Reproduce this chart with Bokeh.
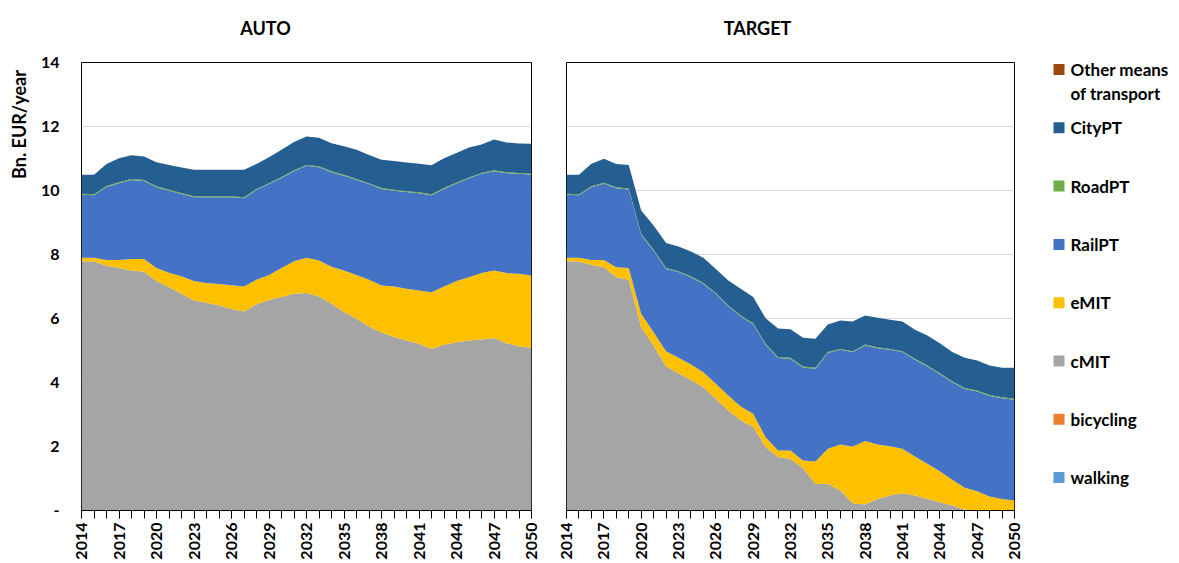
import math
import textwrap
from bokeh.plotting import figure
from bokeh.layouts import row, column
from bokeh.models import ColumnDataSource, FixedTicker, Range1d
from bokeh.embed import file_html
from bokeh.resources import INLINE
from bokeh.core.properties import value

FONT = "Lato"

years = list(range(2014, 2051))
series = ["walking", "bicycling", "cMIT", "eMIT", "RailPT", "RoadPT", "CityPT",
          "Other means of transport"]
colors = ["#5B9BD5", "#ED7D31", "#A5A5A5", "#FFC000", "#4472C4", "#70AD47",
          "#255E91", "#9E480E"]
y_ticks = [0, 2, 4, 6, 8, 10, 12, 14]
y_label = "Bn. EUR/year"
panel_titles = ["AUTO", "TARGET"]

# ---------------- AUTO scenario (Bn. EUR/year) ----------------
auto_walking = [0.0] * 37
auto_bicycling = [0.0] * 37
auto_cMIT = [7.79, 7.78, 7.65, 7.58, 7.50, 7.46, 7.17, 6.98, 6.77, 6.56,
             6.49, 6.41, 6.30, 6.22, 6.44, 6.58, 6.67, 6.77, 6.80, 6.69,
             6.46, 6.20, 5.99, 5.75, 5.56, 5.42, 5.31, 5.21, 5.05, 5.18,
             5.26, 5.31, 5.34, 5.39, 5.23, 5.13, 5.08]
auto_eMIT = [0.11, 0.12, 0.18, 0.25, 0.36, 0.40, 0.41, 0.45, 0.55, 0.61,
             0.62, 0.67, 0.74, 0.78, 0.77, 0.78, 0.91, 1.02, 1.10, 1.12,
             1.16, 1.30, 1.37, 1.46, 1.47, 1.58, 1.62, 1.665, 1.77, 1.82,
             1.91, 1.98, 2.08, 2.11, 2.19, 2.27, 2.26]
auto_RailPT = [1.97, 1.95, 2.28, 2.40, 2.47, 2.44, 2.52, 2.56, 2.57, 2.62,
               2.68, 2.71, 2.75, 2.76, 2.81, 2.84, 2.81, 2.81, 2.87, 2.92,
               2.95, 2.96, 2.97, 2.99, 3.02, 2.99, 3.02, 3.04, 3.03, 3.05,
               3.05, 3.09, 3.10, 3.10, 3.12, 3.12, 3.15]
auto_RoadPT = [0.03] * 37
auto_CityPT = [0.59, 0.61, 0.69, 0.75, 0.74, 0.73, 0.75, 0.78, 0.80, 0.83,
               0.83, 0.83, 0.83, 0.86, 0.78, 0.81, 0.85, 0.885, 0.89, 0.89,
               0.88, 0.89, 0.91, 0.88, 0.88, 0.90, 0.895, 0.89, 0.91, 0.93,
               0.92, 0.93, 0.89, 0.965, 0.93, 0.92, 0.94]
auto_Other = [0.0] * 37

# ---------------- TARGET scenario (Bn. EUR/year) ----------------
target_walking = [0.0] * 37
target_bicycling = [0.0] * 37
target_cMIT = [7.79, 7.78, 7.67, 7.60, 7.29, 7.21, 5.73, 5.16, 4.50, 4.29,
               4.08, 3.85, 3.49, 3.125, 2.81, 2.625, 1.98, 1.67, 1.61, 1.33,
               0.83, 0.83, 0.625, 0.23, 0.19, 0.36, 0.47, 0.54, 0.47, 0.36,
               0.26, 0.16, 0.02, 0.0, 0.0, 0.0, 0.0]
target_eMIT = [0.11, 0.12, 0.16, 0.23, 0.31, 0.37, 0.42, 0.41, 0.48, 0.48,
               0.48, 0.47, 0.47, 0.465, 0.44, 0.395, 0.31, 0.205, 0.265, 0.23,
               0.70, 1.10, 1.435, 1.77, 1.98, 1.70, 1.54, 1.39, 1.22, 1.10,
               0.97, 0.80, 0.69, 0.60, 0.44, 0.36, 0.31]
target_RailPT = [1.97, 1.95, 2.27, 2.38, 2.47, 2.45, 2.47, 2.55, 2.57, 2.68,
                 2.73, 2.76, 2.81, 2.79, 2.81, 2.80, 2.89, 2.89, 2.87, 2.91,
                 2.90, 2.99, 2.96, 2.95, 2.99, 3.01, 3.01, 3.02, 3.02, 3.04,
                 3.03, 3.05, 3.09, 3.12, 3.14, 3.15, 3.15]
target_RoadPT = [0.03] * 37
target_CityPT = [0.59, 0.61, 0.705, 0.75, 0.73, 0.74, 0.725, 0.76, 0.78, 0.77,
                 0.77, 0.79, 0.75, 0.78, 0.84, 0.82, 0.80, 0.89, 0.89, 0.90,
                 0.91, 0.86, 0.89, 0.93, 0.90, 0.92, 0.91, 0.93, 0.91, 0.94,
                 0.94, 0.91, 0.94, 0.94, 0.92, 0.92, 0.97]
target_Other = [0.0] * 37

auto_data = [auto_walking, auto_bicycling, auto_cMIT, auto_eMIT, auto_RailPT,
             auto_RoadPT, auto_CityPT, auto_Other]
target_data = [target_walking, target_bicycling, target_cMIT, target_eMIT,
               target_RailPT, target_RoadPT, target_CityPT, target_Other]

W_TOTAL = 1179
H_TOTAL = 563
TITLE_H = 40            # strip holding the two panel titles
H = H_TOTAL - TITLE_H   # height of the plot row
TOP = 62 - TITLE_H      # frame top at page y = 62
BOTTOM = 53             # frame bottom at page y = 510


def make_panel(data, show_y, width, border_left, border_right):
    src = ColumnDataSource(dict(year=years, **{s: d for s, d in zip(series, data)}))
    p = figure(width=width, height=H, min_border_left=border_left,
               min_border_right=border_right, min_border_top=TOP,
               min_border_bottom=BOTTOM,
               x_range=Range1d(2014, 2050), y_range=Range1d(0, 14),
               output_backend="svg", toolbar_location=None)
    p.varea_stack(stackers=series, x="year", fill_color=colors, source=src)

    p.outline_line_color = "black"
    p.outline_line_width = 1
    p.outline_line_alpha = 1.0

    xa = p.xaxis[0]
    xa.ticker = FixedTicker(ticks=years[::3], minor_ticks=years)
    xa.major_label_orientation = math.pi / 2
    xa.major_tick_in = 0
    xa.major_tick_out = 8
    xa.minor_tick_in = 0
    xa.minor_tick_out = 8
    xa.major_tick_line_color = "black"
    xa.minor_tick_line_color = "black"
    xa.axis_line_color = "black"
    xa.major_label_standoff = 4
    xa.major_label_text_font = FONT
    xa.major_label_text_font_style = "bold"
    xa.major_label_text_font_size = "16px"
    xa.major_label_text_color = "black"

    p.xgrid.visible = False
    p.ygrid.ticker = FixedTicker(ticks=y_ticks)
    p.ygrid.grid_line_color = "#d9d9d9"
    p.ygrid.grid_line_width = 1

    ya = p.yaxis[0]
    ya.ticker = FixedTicker(ticks=y_ticks)
    if show_y:
        ya.major_label_overrides = {0: "-"}
        ya.major_tick_in = 0
        ya.major_tick_out = 0
        ya.minor_tick_out = 0
        ya.minor_tick_in = 0
        ya.axis_line_color = None
        ya.major_label_standoff = 22
        ya.major_label_text_font = FONT
        ya.major_label_text_font_style = "bold"
        ya.major_label_text_font_size = "16px"
        ya.major_label_text_color = "black"
    else:
        ya.visible = False
    return p


def side_panel(x0, w):
    # data coordinates: x = page x, y = H_TOTAL - page y
    f = figure(width=w, height=H, x_range=Range1d(x0, x0 + w),
               y_range=Range1d(BOTTOM, H_TOTAL - TITLE_H - TOP),
               min_border_left=0, min_border_right=0,
               min_border_top=TOP, min_border_bottom=BOTTOM,
               output_backend="svg", toolbar_location=None,
               x_axis_location=None, y_axis_location=None)
    f.outline_line_color = None
    f.grid.visible = False
    return f


# ---------------- title strip ----------------
strip = figure(width=W_TOTAL, height=TITLE_H, x_range=Range1d(0, W_TOTAL),
               y_range=Range1d(0, TITLE_H), min_border=0,
               output_backend="svg", toolbar_location=None,
               x_axis_location=None, y_axis_location=None)
strip.outline_line_color = None
strip.grid.visible = False
strip.text(x=[265, 757], y=[TITLE_H - 27, TITLE_H - 27], text=panel_titles,
           text_font=value(FONT), text_font_style="bold", text_font_size="18px",
           text_align="center", text_baseline="middle", text_color="black")

# ---------------- y-axis title panel ----------------
LBW = 32
lab = side_panel(0, LBW)
lab.text(x=[18.5], y=[H_TOTAL - 124], text=[y_label], angle=math.pi / 2,
         text_font=value(FONT), text_font_style="bold", text_font_size="18px",
         text_align="center", text_baseline="middle", text_color="black")

p1 = make_panel(auto_data, True, 548 - LBW, 81 - LBW, 17)
p2 = make_panel(target_data, False, 476, 18, 10)

# ---------------- legend panel ----------------
X0 = 1024
LW = W_TOTAL - X0
lg = side_panel(X0, LW)

order = list(range(len(series)))[::-1]
row_y = [H_TOTAL - (69 + 58.3 * i) for i in range(len(order))]
lg.rect(x=[1058.5] * len(order), y=row_y, width=11, height=11,
        fill_color=[colors[k] for k in order], line_color=None)
tx, ty, tt = [], [], []
for i, k in enumerate(order):
    for j, line in enumerate(textwrap.wrap(series[k], 12)):
        tx.append(1070)
        ty.append(row_y[i] - 24.3 * j)
        tt.append(line)
lg.text(x=tx, y=ty, text=tt, text_font=value(FONT), text_font_style="bold",
        text_font_size="17px", text_baseline="middle", text_color="black")

layout = column(strip, row(lab, p1, p2, lg))
open("out.html", "w").write(file_html(layout, INLINE))
